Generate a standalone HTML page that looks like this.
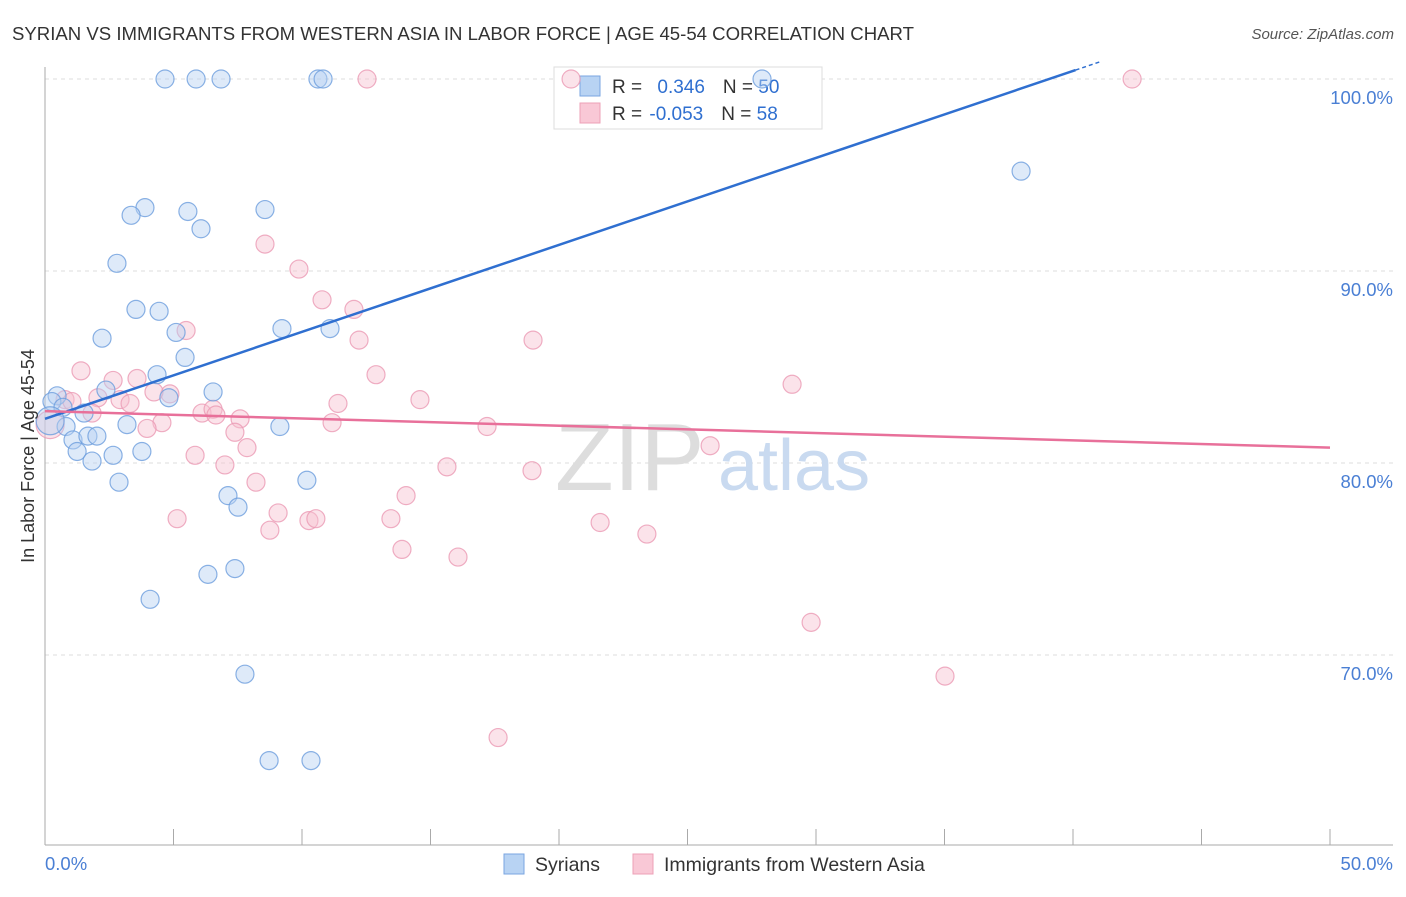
<!DOCTYPE html>
<html><head><meta charset="utf-8"><style>
body{margin:0;background:#fff;font-family:"Liberation Sans",sans-serif}
svg text{font-family:"Liberation Sans",sans-serif}
</style></head><body>
<svg width="1406" height="892">
<text x="12" y="40" font-size="18.6" fill="#333">SYRIAN VS IMMIGRANTS FROM WESTERN ASIA IN LABOR FORCE | AGE 45-54 CORRELATION CHART</text>
<text x="1394" y="39" font-size="15" fill="#555" text-anchor="end" font-style="italic">Source: ZipAtlas.com</text>
<g id="grid"></g>
<text x="555" y="490" font-size="96" fill="#ddd" font-family="Liberation Serif">ZIP</text>
<text x="718" y="490" font-size="72" fill="#c9daf0">atlas</text>
<g>
<rect x="554" y="67" width="268" height="62" fill="#fff" stroke="#ddd"/>
<rect x="580" y="76" width="20" height="20" fill="#b8d3f3" stroke="#7aa6e0"/>
<rect x="580" y="103" width="20" height="20" fill="#f9c8d6" stroke="#eda0b7"/>
<text x="612" y="93" font-size="19" fill="#333">R = <tspan fill="#2f6fd0" dx="10">0.346</tspan><tspan dx="18" fill="#333">N = </tspan><tspan fill="#2f6fd0">50</tspan></text>
<text x="612" y="120" font-size="19" fill="#333">R = <tspan fill="#2f6fd0" dx="2">-0.053</tspan><tspan dx="18" fill="#333">N = </tspan><tspan fill="#2f6fd0">58</tspan></text>
</g>
<g id="marks"></g>
<text transform="translate(34,456) rotate(-90)" font-size="18" fill="#333" text-anchor="middle">In Labor Force | Age 45-54</text>
<text x="45" y="870" font-size="18.5" fill="#4a7fd4">0.0%</text>
<text x="1393" y="870" font-size="18.5" fill="#4a7fd4" text-anchor="end">50.0%</text>
<g>
<rect x="504" y="854" width="20" height="20" fill="#b8d3f3" stroke="#7aa6e0"/>
<text x="535" y="871" font-size="19.5" fill="#333">Syrians</text>
<rect x="633" y="854" width="20" height="20" fill="#f9c8d6" stroke="#eda0b7"/>
<text x="664" y="871" font-size="19.5" fill="#333">Immigrants from Western Asia</text>
</g>
</svg>
<script>
const yTicks=[100,90,80,70];
const yTickLabels=["100.0%","90.0%","80.0%","70.0%"];
const xTicks=[0,5,10,15,20,25,30,35,40,45,50];
const syrX=[4.67,5.88,6.85,10.62,10.82,27.9,37.98,3.89,3.35,5.56,6.07,8.56,2.8,3.54,4.44,5.1,2.22,9.22,11.09,5.45,4.36,6.54,4.82,2.37,0.47,0.27,0.7,1.52,0.82,3.19,9.14,1.09,1.67,2.02,1.25,2.65,3.77,1.83,2.88,10.19,7.12,7.51,6.34,7.39,4.09,7.78,8.72,10.35,0.2];
const syrY=[100,100,100,100,100,100,95.2,93.3,92.9,93.1,92.2,93.2,90.4,88.0,87.9,86.8,86.5,87.0,87.0,85.5,84.6,83.7,83.4,83.8,83.5,83.2,82.9,82.6,81.9,82.0,81.9,81.2,81.4,81.4,80.6,80.4,80.6,80.1,79.0,79.1,78.3,77.7,74.2,74.5,72.9,69.0,64.5,64.5,82.2];
const immX=[12.53,20.47,42.3,8.56,9.88,10.78,12.02,5.49,12.22,18.99,1.4,12.88,2.65,3.58,29.07,4.86,4.24,2.06,2.92,3.31,14.59,11.4,1.83,0.78,1.05,6.11,6.54,6.65,7.59,4.55,3.97,11.17,7.39,17.2,7.86,25.88,5.84,7.0,15.64,18.95,8.21,14.05,5.14,9.07,10.27,10.54,13.46,8.75,21.6,23.42,13.89,16.07,29.81,35.02,17.63,0.2];
const immY=[100,100,100,91.4,90.1,88.5,88.0,86.9,86.4,86.4,84.8,84.6,84.3,84.4,84.1,83.6,83.7,83.4,83.3,83.1,83.3,83.1,82.6,83.3,83.2,82.6,82.8,82.5,82.3,82.1,81.8,82.1,81.6,81.9,80.8,80.9,80.4,79.9,79.8,79.6,79.0,78.3,77.1,77.4,77.0,77.1,77.1,76.5,76.9,76.3,75.5,75.1,71.7,68.9,65.7,82.0];
const syrTrend=[82.3,0.453];
const immTrend=[82.7,-0.038];
const NS="http://www.w3.org/2000/svg";
const X=v=>45+v*25.7, Y=v=>79+(100-v)*19.2;
function mk(t,a,p){const e=document.createElementNS(NS,t);for(const k in a)e.setAttribute(k,a[k]);p.appendChild(e);return e;}
const g=document.getElementById('grid'),m=document.getElementById('marks');
yTicks.forEach((t,i)=>{const l=mk('line',{x1:45,x2:1393,y1:Y(t),y2:Y(t),stroke:'#ddd','stroke-dasharray':'4,4'},g);


const tx=mk('text',{x:1393,y:Y(t)+25,'font-size':18.5,fill:'#4a7fd4','text-anchor':'end'},g);tx.textContent=yTickLabels[i];

});
const ax=mk('line',{x1:45,x2:45,y1:67,y2:845,stroke:'#aaa'},g);


const bx=mk('line',{x1:45,x2:1393,y1:845,y2:845,stroke:'#aaa'},g);


xTicks.forEach(t=>{const l=mk('line',{x1:X(t),x2:X(t),y1:829,y2:845,stroke:'#aaa'},g);

});
function pts(xs,ys,fill,stroke,name){xs.forEach((x,i)=>{const big=(i===xs.length-1);const c=mk('circle',{cx:X(x),cy:Y(ys[i]),r:big?14:9,fill:fill,'fill-opacity':0.45,stroke:stroke,'stroke-opacity':0.8,'stroke-width':1.2},m);

});}
pts(immX,immY,'#f7c0d0','#eb9ab4','immigrants-point');
pts(syrX,syrY,'#b5d0f2','#6d9ddd','syrians-point');
const xe=40.1;
const bl=mk('line',{x1:X(0),y1:Y(syrTrend[0]),x2:X(xe),y2:Y(syrTrend[0]+syrTrend[1]*xe),stroke:'#2f6fd0','stroke-width':2.5},m);


const bd=mk('line',{x1:X(xe),y1:Y(syrTrend[0]+syrTrend[1]*xe),x2:X(41.1),y2:Y(syrTrend[0]+syrTrend[1]*41.1),stroke:'#2f6fd0','stroke-width':1.5,'stroke-dasharray':'4,3'},m);


const pl=mk('line',{x1:X(0),y1:Y(immTrend[0]),x2:X(50),y2:Y(immTrend[0]+immTrend[1]*50),stroke:'#e8709a','stroke-width':2.5},m);


</script>
</body></html>
